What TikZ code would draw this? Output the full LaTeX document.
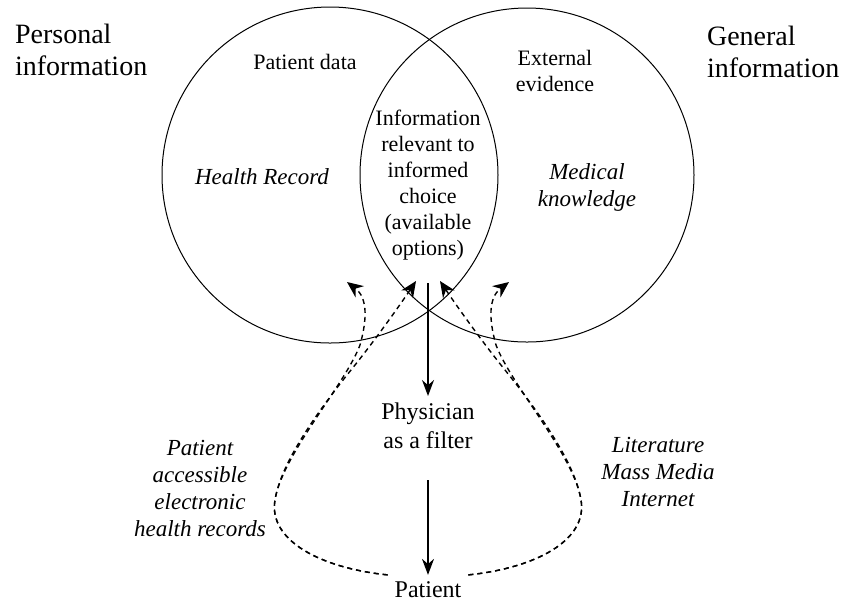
\documentclass[tikz,border=0pt]{standalone}
\usepackage{fontspec}
\setmainfont{Liberation Serif}
\usetikzlibrary{arrows.meta}
\begin{document}
\begin{tikzpicture}[x=0.5pt,y=-0.5pt,
  arr/.style={-{Stealth[length=8pt,width=6pt]},line width=0.8pt},
  dsh/.style={dash pattern=on 2.5pt off 2pt,line width=0.7pt,-{Stealth[length=8pt,width=7pt]}},
  lbl/.style={font=\fontsize{11}{13}\selectfont,align=center},
  mid/.style={font=\fontsize{12}{14.5}\selectfont,align=center},
  big/.style={font=\fontsize{14}{16}\selectfont,align=left},
  itl/.style={font=\fontsize{11.5}{13.5}\selectfont\itshape,align=center}]
\useasboundingbox (0,0) rectangle (841,602);
\draw[line width=0.5pt] (330,175) circle (168);
\draw[line width=0.5pt] (527,175) circle (167);
\node[big,anchor=west] (pers) at (8,50) {Personal\\information};
\node[big,anchor=west] (gen) at (700,52) {General\\information};
\node[lbl] (pdata) at (305,62) {Patient data};
\node[lbl] (ext) at (555,71) {External\\evidence};
\node[itl] (hrec) at (262,177) {Health Record};
\node[itl] (medk) at (587,187) {Medical\\knowledge};
\node[lbl] (info) at (428,185) {Information\\relevant to\\informed\\choice\\(available\\options)};
\node[mid] (phys) at (428,426) {Physician\\as a filter};
\node[mid] (pat) at (428,590) {Patient};
\node[itl] (pehr) at (200,488) {Patient\\accessible\\electronic\\health records};
\node[itl] (lit) at (658,472) {Literature\\Mass Media\\Internet};
\coordinate (top) at (428,283);
\draw[arr] (top) -- (phys);
\draw[arr,shorten <=12pt] (phys) -- (pat);
\draw[dsh] (pat.north west) .. controls (320,568) and (268,540) .. (275,500)
  .. controls (282,455) and (345,385) .. (360,345)
  .. controls (367,320) and (368,298) .. (347,282);
\draw[dsh] (pat.north west) .. controls (320,568) and (268,540) .. (275,500)
  .. controls (282,455) and (335,390) .. (355,365)
  .. controls (375,340) and (400,305) .. (416,281);
\draw[dsh] (pat.north east) .. controls (536,568) and (588,540) .. (581,500)
  .. controls (574,455) and (511,385) .. (496,345)
  .. controls (489,320) and (488,298) .. (509,282);
\draw[dsh] (pat.north east) .. controls (536,568) and (588,540) .. (581,500)
  .. controls (574,455) and (521,390) .. (501,365)
  .. controls (481,340) and (456,305) .. (440,281);
\end{tikzpicture}
\end{document}
